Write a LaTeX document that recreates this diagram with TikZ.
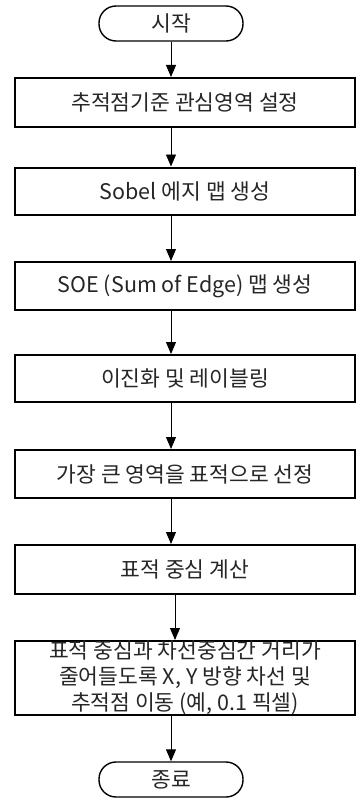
\documentclass[tikz,border=0pt]{standalone}
\usepackage{fontspec}
\setmainfont{Noto Sans CJK KR}
\usetikzlibrary{arrows.meta}
\begin{document}
\begin{tikzpicture}[x=1pt,y=-1pt,
  every node/.style={font=\fontsize{21.5}{26}\selectfont, text=black!85},
  procbox/.style={draw=black, line width=2pt, fill=white, minimum width=340pt, inner sep=0pt, align=center},
  termbox/.style={draw=black, line width=1.4pt, fill=white, rounded corners=17pt, minimum width=144pt, minimum height=35pt, inner sep=0pt},
  flow/.style={draw=black, line width=0.9pt, -{Triangle[width=10pt,length=12pt]}}
]
\useasboundingbox (0,0) rectangle (358,800);
\node[termbox] (s) at (171,23.5) {시작};
\node[procbox, minimum height=49pt] (b1) at (185,102.5) {추적점기준 관심영역 설정};
\node[procbox, minimum height=47pt] (b2) at (185,191) {Sobel 에지 맵 생성};
\node[procbox, minimum height=48pt] (b3) at (185,286) {SOE (Sum of Edge) 맵 생성};
\node[procbox, minimum height=47pt] (b4) at (185,378.5) {이진화 및 레이블링};
\node[procbox, minimum height=48pt] (b5) at (185,474) {가장 큰 영역을 표적으로 선정};
\node[procbox, minimum height=49pt] (b6) at (185,569.5) {표적 중심 계산};
\node[procbox, minimum height=74pt] (b7) at (185,678) {표적 중심과 차선중심간 거리가\\줄어들도록 X, Y 방향 차선 및\\추적점 이동 (예, 0.1 픽셀)};
\node[termbox] (e) at (171,779.5) {종료};
\coordinate (a6) at (175,0);
\draw[flow] (s.south) -- (b1.north -| s.south);
\draw[flow] (b1.south -| s.south) -- (b2.north -| s.south);
\draw[flow] (b2.south -| s.south) -- (b3.north -| s.south);
\draw[flow] (b3.south -| s.south) -- (b4.north -| s.south);
\draw[flow] (b4.south -| s.south) -- (b5.north -| s.south);
\draw[flow] (b5.south -| s.south) -- (b6.north -| s.south);
\draw[flow] (b6.south -| a6) -- (b7.north -| a6);
\draw[flow] (b7.south -| e.north) -- (e.north);
\end{tikzpicture}
\end{document}
